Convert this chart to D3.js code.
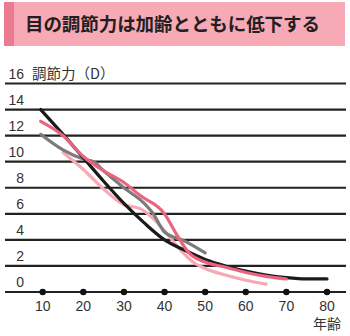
<!DOCTYPE html>
<html><head><meta charset="utf-8">
<script src="https://cdn.jsdelivr.net/npm/d3@7"></script>
<style>body{margin:0;background:#fff}svg{display:block}</style>
</head><body>
<script>
const title = "目の調節力は加齢とともに低下する";
const yUnit = "調節力（D）";
const xUnit = "年齢";
const yTicks = [0,2,4,6,8,10,12,14,16];
const xTicks = [10,20,30,40,50,60,70,80];
const blackSeries = [[9.5,14.0],[15,12.1],[20,10.3],[25,8.5],[30,6.8],[35,5.3],[40,4.0],[45,3.2],[50,2.5],[55,2.0],[60,1.6],[65,1.3],[70,1.1],[75,1.0],[80,1.0]];
const graySeries = [[9.5,12.1],[15,10.9],[20,10.2],[22.5,10.0],[25,9.3],[30,8.0],[35,6.8],[37,6.1],[40,4.6],[45,3.9],[50,3.0]];
const pinkSeries = [[9.5,13.1],[15,12.0],[20,10.4],[25,9.3],[30,8.4],[34,7.4],[40,6.0],[43,4.4],[46,3.0],[50,2.3],[55,1.9],[60,1.5],[65,1.2],[70,1.0]];
const lightPinkSeries = [[15,10.7],[20,9.4],[25,7.9],[30,6.7],[34,6.4],[37,5.7],[40,4.7],[44,3.2],[47,2.3],[50,1.8],[55,1.3],[60,0.9],[65,0.6]];

const W = 350, H = 336;
const svg = d3.select("body").append("svg").attr("width", W).attr("height", H);

// title banner
svg.append("rect").attr("x",4).attr("y",2).attr("width",341).attr("height",44).attr("fill","#f7aab6");
svg.append("rect").attr("x",4).attr("y",2).attr("width",10).attr("height",44).attr("fill","#ec7a91");
svg.append("text").attr("x",25).attr("y",31).attr("font-family","'Noto Sans CJK JP'").attr("font-weight","bold")
  .attr("font-size",18.5).attr("fill","#231f20")
  .attr("textLength",295).attr("lengthAdjust","spacing").text(title);

const x = d3.scaleLinear().domain([0,80]).range([2.1, 327]);
const y = d3.scaleLinear().domain([0,16]).range([292, 83.5]);

// gridlines
const g = svg.append("g");
g.selectAll("line.grid").data(yTicks).join("line").attr("class","grid")
  .attr("x1",5).attr("x2",346).attr("y1",d=>y(d)).attr("y2",d=>y(d))
  .attr("stroke","#222").attr("stroke-width",2.2);

// y labels
g.selectAll("text.yl").data(yTicks).join("text").attr("class","yl")
  .attr("x",24).attr("y",d=>y(d)-5).attr("text-anchor","end")
  .attr("font-family","'Liberation Sans', Arial, sans-serif").attr("font-size",14).attr("fill","#333")
  .text(d=>d);
svg.append("text").attr("x",32).attr("y",y(16)-5).attr("font-family","'Noto Sans CJK JP'")
  .attr("font-size",14.5).attr("fill","#333").text(yUnit);

// x tick dots + labels
g.selectAll("circle.xt").data(xTicks).join("circle").attr("class","xt")
  .attr("cx",d=>x(d)).attr("cy",y(0)).attr("r",3.2).attr("fill","#111");
g.selectAll("text.xl").data(xTicks).join("text").attr("class","xl")
  .attr("x",d=>x(d)).attr("y",311).attr("text-anchor","middle")
  .attr("font-family","'Liberation Sans', Arial, sans-serif").attr("font-size",14).attr("fill","#333")
  .text(d=>d);
svg.append("text").attr("x",327).attr("y",329).attr("text-anchor","middle").attr("font-family","'Noto Sans CJK JP'")
  .attr("font-size",14).attr("fill","#333").text(xUnit);

// lines
const line = d3.line().x(d=>x(d[0])).y(d=>y(d[1])).curve(d3.curveMonotoneX);
const series = [
  {data: lightPinkSeries, color: "#f5a9b4"},
  {data: graySeries, color: "#7b7b7b"},
  {data: blackSeries, color: "#1a1a1a"},
  {data: pinkSeries, color: "#ea6480"}
];
svg.selectAll("path.s").data(series).join("path").attr("class","s")
  .attr("d",d=>line(d.data)).attr("fill","none").attr("stroke",d=>d.color)
  .attr("stroke-width",3.2).attr("stroke-linecap","round").attr("stroke-linejoin","round");
</script>
</body></html>
